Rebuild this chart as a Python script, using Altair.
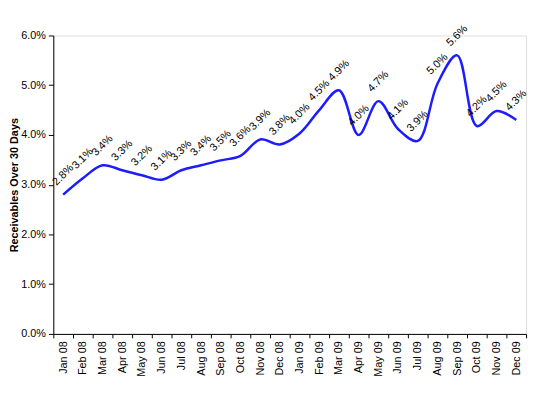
import altair as alt
import pandas as pd

months = ["Jan 08", "Feb 08", "Mar 08", "Apr 08", "May 08", "Jun 08", "Jul 08", "Aug 08",
          "Sep 08", "Oct 08", "Nov 08", "Dec 08", "Jan 09", "Feb 09", "Mar 09", "Apr 09",
          "May 09", "Jun 09", "Jul 09", "Aug 09", "Sep 09", "Oct 09", "Nov 09", "Dec 09"]
values_pct = [2.80, 3.13, 3.39, 3.29, 3.19, 3.10, 3.29, 3.39, 3.49, 3.58, 3.91, 3.81,
              4.03, 4.50, 4.90, 4.00, 4.68, 4.12, 3.88, 5.03, 5.60, 4.18, 4.48, 4.30]
y_ticks = [0.0, 0.01, 0.02, 0.03, 0.04, 0.05, 0.06]

df = pd.DataFrame({"month": months, "value": [v / 100 for v in values_pct]})

font = "Liberation Sans"

x_enc = alt.X(
    "month:N",
    sort=months,
    scale=alt.Scale(type="band", paddingInner=0, paddingOuter=0),
    axis=alt.Axis(
        title=None, labelAngle=270, labelFontSize=11, labelFont=font, labelColor="black",
        tickBand="extent", tickColor="black", tickSize=4, domainColor="black",
        labelPadding=3, grid=False,
    ),
)
y_enc = alt.Y(
    "value:Q",
    scale=alt.Scale(domain=[0, 0.06], nice=False),
    axis=alt.Axis(
        title="Receivables Over 30 Days", format=".1%", values=y_ticks,
        labelFontSize=11, labelFont=font, labelColor="black",
        titleFont=font, titleFontSize=11, titleFontWeight="bold", titleColor="black",
        titleX=-39, titleBaseline="middle", tickColor="black", tickSize=5,
        domainColor="black", grid=False, labelPadding=3,
    ),
)

line = alt.Chart(df).mark_line(
    color="#1c1cff", strokeWidth=2.5, interpolate="catmull-rom"
).encode(x=x_enc, y=y_enc)

labels = alt.Chart(df).mark_text(
    angle=315, align="center", baseline="middle", dx=14, dy=-14,
    fontSize=11, font=font, color="black",
).encode(x=x_enc, y=y_enc, text=alt.Text("value:Q", format=".1%"))

chart = (
    alt.layer(line, labels)
    .properties(
        width=480, height=303,
        autosize=alt.AutoSizeParams(type="none"),
        padding={"left": 46, "top": 25, "right": 6, "bottom": 52},
    )
    .configure_view(stroke=None)
    .configure(background="white")
)

chart.save("out.html", embed_options={"renderer": "svg", "actions": False})
